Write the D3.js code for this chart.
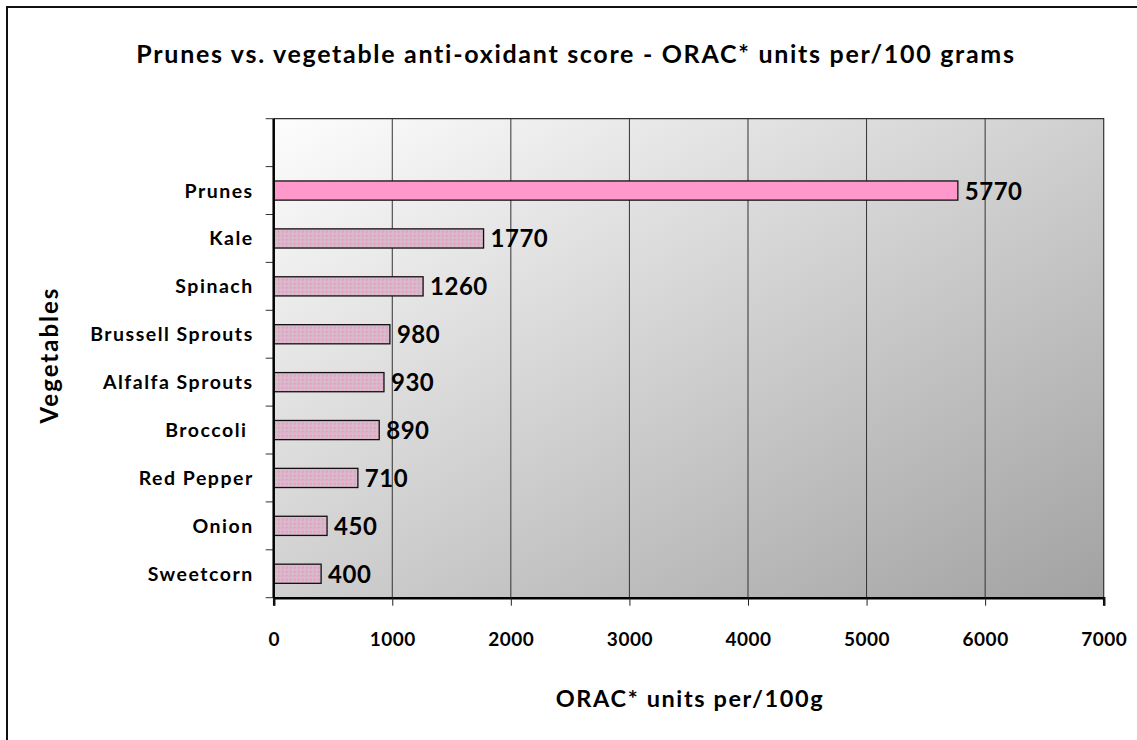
<!DOCTYPE html>
<html>
<head>
<meta charset="utf-8">
<script src="https://cdn.jsdelivr.net/npm/d3@7"></script>
<style>
  body { margin: 0; background: #fff; }
  text { font-family: Lato, "Open Sans", sans-serif; font-weight: bold; fill: #000; }
</style>
</head>
<body>
<div id="chart"></div>
<script>
// data
var categories = ["Prunes", "Kale", "Spinach", "Brussell Sprouts", "Alfalfa Sprouts", "Broccoli ", "Red Pepper", "Onion", "Sweetcorn"]
var values = [5770, 1770, 1260, 980, 930, 890, 710, 450, 400]
var xTicks = [0, 1000, 2000, 3000, 4000, 5000, 6000, 7000]

var W = 1137, H = 740
var margin = {top: 118.7, right: 33.3, bottom: 142.3, left: 273.7},
    width = W - margin.left - margin.right,
    height = H - margin.top - margin.bottom;

var root = d3.select("#chart").append("svg")
    .attr("width", W)
    .attr("height", H)

var defs = root.append("defs")
var grad = defs.append("linearGradient")
    .attr("id", "bg")
    .attr("x1", 0).attr("y1", 0).attr("x2", 1).attr("y2", 1)
grad.append("stop").attr("offset", "0%").attr("stop-color", "#fdfdfd")
grad.append("stop").attr("offset", "100%").attr("stop-color", "#a2a2a2")

var pat = defs.append("pattern")
    .attr("id", "dots")
    .attr("width", 4).attr("height", 4)
    .attr("patternUnits", "userSpaceOnUse")
pat.append("rect").attr("width", 4).attr("height", 4).attr("fill", "#d6bcc9")
pat.append("rect").attr("x", 0).attr("y", 0).attr("width", 2).attr("height", 2).attr("fill", "#e99ac6")

// outer frame (only top and left are visible)
root.append("rect")
    .attr("x", 7).attr("y", 7)
    .attr("width", W + 20).attr("height", H + 20)
    .attr("fill", "none")
    .attr("stroke", "#111")
    .attr("stroke-width", 2)

var svg = root.append("g")
    .attr("transform", "translate(" + margin.left + "," + margin.top + ")")

var x = d3.scaleLinear()
    .domain([0, 7000])
    .range([0, width])

// one empty slot above Prunes
var y = d3.scaleBand()
    .domain([" "].concat(categories))
    .range([0, height])
    .padding(0)

svg.append("rect")
    .attr("width", width)
    .attr("height", height)
    .attr("fill", "url(#bg)")

// vertical grid
svg.selectAll(".grid")
  .data(xTicks.slice(1, -1))
  .enter().append("line")
    .attr("x1", function(d) { return x(d) })
    .attr("x2", function(d) { return x(d) })
    .attr("y1", 0)
    .attr("y2", height)
    .attr("stroke", "#333")
    .attr("stroke-width", 1)

// frame top / right
svg.append("path")
    .attr("d", "M0,0H" + width + "V" + height)
    .attr("fill", "none")
    .attr("stroke", "#333")
    .attr("stroke-width", 1.2)

// bars
var step = y.step()
svg.selectAll(".bar")
  .data(categories)
  .enter().append("rect")
    .attr("x", x(0))
    .attr("y", function(d) { return y(d) + step * 0.3 })
    .attr("width", function(d, i) { return x(values[i]) - x(0) })
    .attr("height", step * 0.4)
    .attr("fill", function(d, i) { return i == 0 ? "#ff99cc" : "url(#dots)" })
    .attr("stroke", "#111")
    .attr("stroke-width", 1.3)

// value labels
svg.selectAll(".val")
  .data(categories)
  .enter().append("text")
    .attr("x", function(d, i) { return x(values[i]) + 7 })
    .attr("y", function(d) { return y(d) + step / 2 + 9 })
    .style("font-size", "24px")
    .style("letter-spacing", "0.5px")
    .text(function(d, i) { return values[i] })

// x axis
var xAxis = svg.append("g")
    .attr("transform", "translate(0," + height + ")")
    .call(d3.axisBottom(x).tickValues(xTicks).tickFormat(d3.format("d")).tickSize(8).tickPadding(27))
xAxis.select(".domain").attr("stroke", "#000").attr("stroke-width", 2.5)
xAxis.selectAll(".tick line").attr("stroke", "#222").attr("stroke-width", 1)
xAxis.selectAll(".tick text")
    .style("font-size", "19px")
    .style("font-family", "Lato, sans-serif")
    .style("font-weight", "bold")
    .style("letter-spacing", "0.5px")
    .attr("fill", "#000")

// y axis: ticks on band edges
var yAxis = svg.append("g")
yAxis.selectAll("line")
  .data(y.domain().concat(["__end"]))
  .enter().append("line")
    .attr("x1", -8).attr("x2", 0)
    .attr("y1", function(d) { return d == "__end" ? height : y(d) })
    .attr("y2", function(d) { return d == "__end" ? height : y(d) })
    .attr("stroke", "#333")
    .attr("stroke-width", 1)
yAxis.append("line")
    .attr("x1", 0).attr("x2", 0)
    .attr("y1", 0).attr("y2", height)
    .attr("stroke", "#000")
    .attr("stroke-width", 2.5)
yAxis.selectAll(".lab")
  .data(categories)
  .enter().append("text")
    .attr("x", -20)
    .attr("y", function(d) { return y(d) + step / 2 + 7 })
    .attr("text-anchor", "end")
    .style("font-size", "19.5px")
    .style("letter-spacing", "1.5px")
    .style("white-space", "pre")
    .text(function(d) { return d })

// titles
root.append("text")
    .attr("x", 576)
    .attr("y", 63)
    .attr("text-anchor", "middle")
    .style("font-size", "25px")
    .style("letter-spacing", "1.7px")
    .text("Prunes vs. vegetable anti-oxidant score - ORAC* units per/100 grams")

root.append("text")
    .attr("x", 690)
    .attr("y", 707)
    .attr("text-anchor", "middle")
    .style("font-size", "23.5px")
    .style("letter-spacing", "1.6px")
    .text("ORAC* units per/100g")

root.append("text")
    .attr("transform", "translate(58,355) rotate(-90)")
    .attr("text-anchor", "middle")
    .style("font-size", "24px")
    .style("letter-spacing", "2px")
    .text("Vegetables")
</script>
</body>
</html>
